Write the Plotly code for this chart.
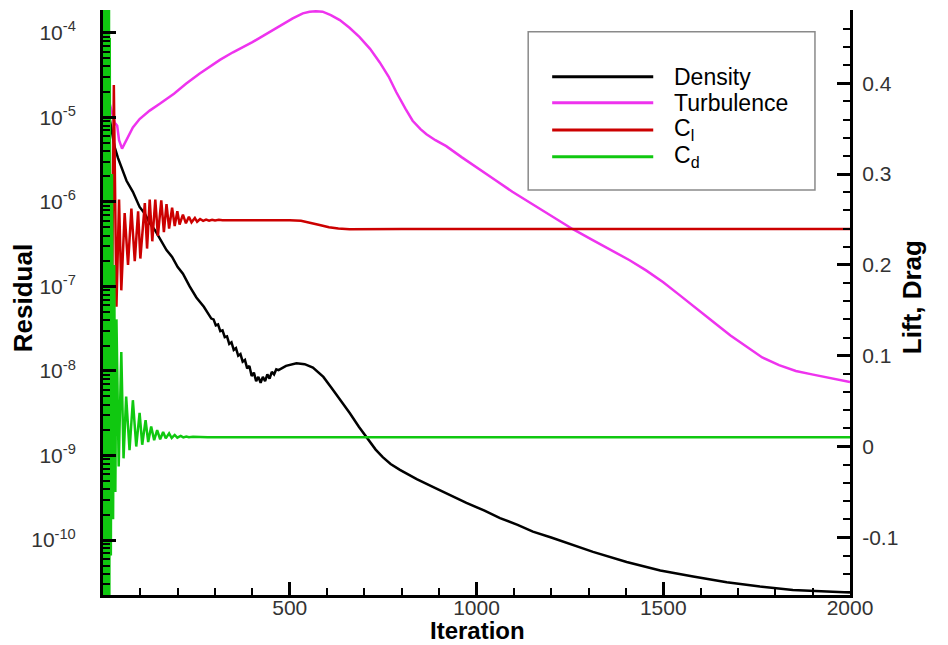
import numpy as np
import plotly.graph_objects as go

# ---------------- data ----------------
series_names = ["Density", "Turbulence", "C<sub>l</sub>", "C<sub>d</sub>"]
series_colors = ["#000000", "#ee33ee", "#cc0000", "#10c810"]

# Density residual (log10 of residual)
density_iter = [1, 5, 10, 18, 25, 31, 40, 54, 63, 80, 98, 112, 125, 140, 155, 170, 185, 200, 214, 232,
                250, 270, 290, 296, 302, 308, 314, 320, 326, 332, 338, 344, 350, 356, 362, 368, 374, 380,
                386, 392, 398, 404, 410, 416, 422, 428, 434, 440, 446, 452, 458, 464, 470, 490, 518, 540,
                562, 590, 615, 640, 661, 685, 706, 730, 749, 770, 795, 840, 883, 930, 973, 1020, 1063,
                1110, 1151, 1200, 1241, 1312, 1402, 1492, 1580, 1670, 1759, 1847, 1938, 2000]
density_log10 = [-4.85, -4.90, -4.95, -5.02, -5.20, -5.35, -5.48, -5.66, -5.75, -5.88, -6.06, -6.14,
                 -6.25, -6.34, -6.46, -6.57, -6.65, -6.77, -6.85, -7.00, -7.13, -7.24, -7.38, -7.39,
                 -7.46, -7.45, -7.53, -7.52, -7.60, -7.59, -7.68, -7.66, -7.75, -7.73, -7.82, -7.80,
                 -7.89, -7.87, -7.97, -7.94, -8.06, -8.02, -8.12, -8.07, -8.14, -8.07, -8.12, -8.04,
                 -8.09, -8.01, -8.04, -7.98, -7.99, -7.94, -7.91, -7.92, -7.96, -8.07, -8.22, -8.37,
                 -8.50, -8.66, -8.78, -8.93, -9.02, -9.10, -9.17, -9.28, -9.37, -9.47, -9.56, -9.65,
                 -9.74, -9.82, -9.90, -9.97, -10.03, -10.14, -10.26, -10.36, -10.43, -10.50, -10.55,
                 -10.59, -10.61, -10.62]

# Turbulence residual (log10 of residual)
turb_iter = [1, 10, 18, 31, 38, 43, 51, 63, 80, 98, 125, 152, 190, 223, 259, 313, 348, 400, 438, 475,
             508, 535, 553, 570, 588, 610, 634, 660, 687, 715, 741, 765, 785, 810, 829, 850, 866, 890,
             919, 960, 1008, 1050, 1096, 1140, 1186, 1257, 1310, 1364, 1410, 1454, 1500, 1543, 1590,
             1631, 1680, 1721, 1765, 1810, 1855, 1898, 1950, 2000]
turb_log10 = [-4.78, -4.80, -4.84, -5.06, -5.10, -5.27, -5.37, -5.27, -5.12, -5.02, -4.92, -4.84,
              -4.72, -4.60, -4.48, -4.32, -4.23, -4.11, -4.01, -3.91, -3.83, -3.77, -3.75, -3.745,
              -3.75, -3.79, -3.85, -3.94, -4.05, -4.19, -4.35, -4.52, -4.70, -4.90, -5.04, -5.14,
              -5.20, -5.27, -5.34, -5.47, -5.61, -5.74, -5.88, -6.00, -6.12, -6.32, -6.45, -6.58,
              -6.69, -6.81, -6.95, -7.10, -7.27, -7.41, -7.58, -7.71, -7.84, -7.93, -8.00, -8.04,
              -8.09, -8.13]

# Lift coefficient
cl_iter = [0, 3, 6, 9, 12, 15, 18, 21, 25, 29, 36, 43, 49, 58, 67, 76, 85, 94, 100, 112, 118, 125,
           132, 140, 147, 156, 163, 170, 177, 185, 192, 199, 205, 214, 222, 230, 237, 246, 252, 260,
           268, 276, 284, 292, 300, 310, 320, 400, 500, 530, 555, 580, 605, 630, 660, 700, 800, 1000,
           1500, 2000]
cl_val = [0.05, -0.30, 0.50, -0.20, 0.45, 0.00, 0.35, 0.10, 0.20, 0.398, 0.154, 0.272, 0.172, 0.257,
          0.200, 0.262, 0.204, 0.259, 0.207, 0.268, 0.218, 0.272, 0.226, 0.272, 0.232, 0.271, 0.236,
          0.267, 0.240, 0.263, 0.2428, 0.259, 0.2445, 0.2553, 0.2458, 0.2531, 0.2469, 0.2517, 0.2475,
          0.2505, 0.2485, 0.2500, 0.2488, 0.2498, 0.2490, 0.2496, 0.2492, 0.2494, 0.2492, 0.2485,
          0.2465, 0.2440, 0.2415, 0.2400, 0.2393, 0.2395, 0.2395, 0.2395, 0.2395, 0.2395]

# Drag coefficient
cd_iter = [0, 1, 2, 3, 4, 5, 6, 7, 8, 9, 10, 11, 12, 13, 14, 15, 16, 17, 18, 21, 24, 27, 30, 33, 36,
           42, 49, 55, 62, 71, 80, 89, 98, 105, 114, 121, 129, 137, 145, 153, 161, 168, 177, 184, 192,
           199, 208, 215, 223, 230, 241, 250, 260, 280, 300, 2000]
cd_val = [0.6, -0.3, 0.6, -0.3, 0.6, -0.3, 0.6, -0.3, 0.6, -0.3, 0.6, -0.3, 0.6, -0.3, 0.55, -0.25,
          0.5, -0.2, 0.45, -0.12, 0.30, -0.08, 0.20, -0.05, 0.14, -0.022, 0.104, -0.013, 0.055, -0.004,
          0.051, 0.000, 0.037, 0.002, 0.029, 0.005, 0.022, 0.007, 0.018, 0.008, 0.016, 0.009, 0.0145,
          0.0094, 0.0127, 0.0098, 0.0116, 0.0100, 0.0110, 0.0102, 0.0107, 0.0103, 0.0105, 0.0102,
          0.0103, 0.0101]

x_tickvals = [500, 1000, 1500, 2000]
x_ticktext = ["500", "1000", "1500", "2000"]
left_exponents = [-10, -9, -8, -7, -6, -5, -4]
right_tickvals = [-0.1, 0.0, 0.1, 0.2, 0.3, 0.4]
right_ticktext = ["-0.1", "0", "0.1", "0.2", "0.3", "0.4"]

# ---------------- figure ----------------
TICKFONT = dict(family="Liberation Sans, Arial, sans-serif", size=21, color="#333333")
TITLEFONT = dict(family="Liberation Sans, Arial, sans-serif", size=26, color="#000000")

fig = go.Figure()
fig.add_trace(go.Scatter(x=density_iter, y=np.power(10.0, density_log10), mode="lines",
                         name="Density", line=dict(color=series_colors[0], width=2.5), yaxis="y"))
fig.add_trace(go.Scatter(x=turb_iter, y=np.power(10.0, turb_log10), mode="lines",
                         name="Turbulence", line=dict(color=series_colors[1], width=2.5), yaxis="y"))
fig.add_trace(go.Scatter(x=cl_iter, y=cl_val, mode="lines", name="C<sub>l</sub>",
                         line=dict(color=series_colors[2], width=2.5), yaxis="y2"))
fig.add_trace(go.Scatter(x=cd_iter, y=cd_val, mode="lines", name="C<sub>d</sub>",
                         line=dict(color=series_colors[3], width=2.5), yaxis="y2"))

left_tickvals = [10.0 ** e for e in left_exponents]
left_ticktext = ["10<sup>%d</sup>" % e for e in left_exponents]
left_minor = [m * 10.0 ** e for e in range(-11, -3) for m in range(2, 10)]

# the page body adds an 8 px offset, so margins are shifted accordingly
fig.update_layout(
    width=948, height=645, autosize=False,
    margin=dict(l=95, r=106, t=2, b=58),
    paper_bgcolor="white", plot_bgcolor="white",
    showlegend=False,
    xaxis=dict(range=[0, 2000], tickmode="array", tickvals=x_tickvals, ticktext=x_ticktext,
               ticks="inside", ticklen=13, tickwidth=2.5, tickcolor="black",
               showline=True, linewidth=3, linecolor="black", mirror=False,
               showgrid=False, zeroline=False, tickfont=TICKFONT, ticklabelstandoff=-8,
               minor=dict(tickmode="linear", tick0=0, dtick=100, ticks="inside", ticklen=7,
                          tickwidth=1.5, tickcolor="black", showgrid=False)),
    yaxis=dict(type="log", range=[-10.65, -3.73], tickmode="array", tickvals=left_tickvals,
               ticktext=left_ticktext, ticks="inside", ticklen=13, tickwidth=2.5, tickcolor="black",
               showline=True, linewidth=3, linecolor="black", showgrid=False, zeroline=False,
               tickfont=TICKFONT, ticklabelstandoff=20,
               minor=dict(tickmode="array", tickvals=left_minor, ticks="inside", ticklen=7,
                          tickwidth=1.5, tickcolor="black", showgrid=False)),
    yaxis2=dict(overlaying="y", side="right", range=[-0.1635, 0.4807], tickmode="array",
                tickvals=right_tickvals, ticktext=right_ticktext, ticks="inside", ticklen=13,
                tickwidth=2.5, tickcolor="black", showline=True, linewidth=3, linecolor="black",
                showgrid=False, zeroline=False, tickfont=TICKFONT, ticklabelstandoff=5,
                minor=dict(tickmode="linear", tick0=0, dtick=0.02, ticks="inside", ticklen=7,
                           tickwidth=1.5, tickcolor="black", showgrid=False)),
)

# axis titles
fig.add_annotation(text="Residual", xref="paper", yref="paper", x=-0.106, y=0.507,
                   textangle=-90, showarrow=False, font=dict(TITLEFONT, weight="bold"),
                   xanchor="center", yanchor="middle")
fig.add_annotation(text="Lift, Drag", xref="paper", yref="paper", x=1.083, y=0.509,
                   textangle=-90, showarrow=False, font=dict(TITLEFONT, weight="bold"),
                   xanchor="center", yanchor="middle")
fig.add_annotation(text="Iteration", xref="paper", yref="paper", x=0.5018, y=-0.0615,
                   showarrow=False, font=dict(TITLEFONT, size=24, weight="bold"),
                   xanchor="center", yanchor="middle")

# legend box drawn to match the reference's long line samples
fig.add_shape(type="rect", xref="paper", yref="paper", x0=0.5692, x1=0.9531, y0=0.6923, y1=0.9629,
              line=dict(color="#8a8a8a", width=1.5), fillcolor="white", layer="above")
legend_rows_y = [0.8859, 0.8415, 0.7949, 0.7492]
for name, color, ly in zip(series_names, series_colors, legend_rows_y):
    fig.add_shape(type="line", xref="paper", yref="paper", x0=0.6013, x1=0.7366, y0=ly, y1=ly,
                  line=dict(color=color, width=3), layer="above")
    fig.add_annotation(text=name, xref="paper", yref="paper", x=0.7612, y=ly, xanchor="left",
                       yanchor="middle", showarrow=False,
                       font=dict(family="Liberation Sans, Arial, sans-serif", size=23, color="#000000"))

fig.write_html("out.html")
